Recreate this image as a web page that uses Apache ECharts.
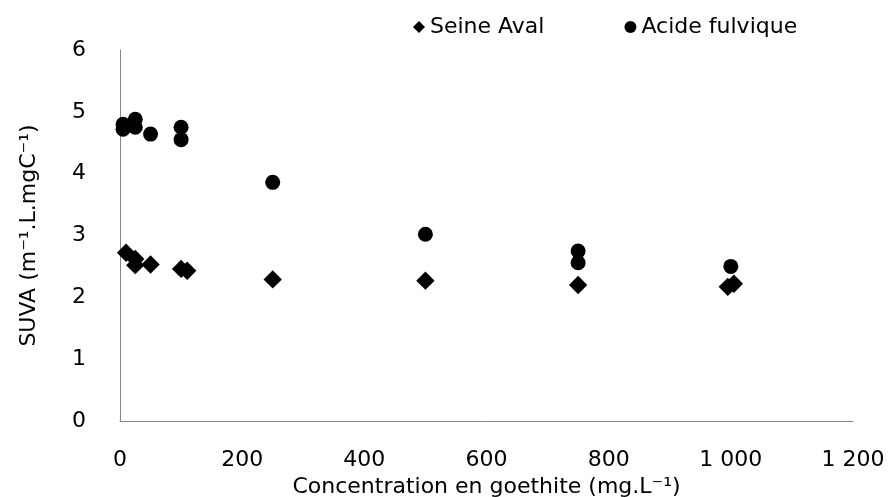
<!DOCTYPE html>
<html>
<head>
<meta charset="utf-8">
<script src="https://cdn.jsdelivr.net/npm/echarts@6/dist/echarts.min.js"></script>
<style>
    html, body { margin: 0; padding: 0; background: #fff; }
    #main { width: 888px; height: 497px; }
</style>
</head>
<body>
<div id="main"></div>
<script>
// concentration en goethite (mg/L) et SUVA
const seineX = [10, 25, 25, 50, 100, 110, 250, 500, 750, 995, 1005];
const seineY = [2.72, 2.62, 2.52, 2.53, 2.46, 2.43, 2.29, 2.27, 2.2, 2.17, 2.22];
const fulviqueX = [5, 5, 25, 25, 50, 100, 100, 250, 500, 750, 750, 1000];
const fulviqueY = [4.72, 4.8, 4.88, 4.75, 4.64, 4.75, 4.55, 3.86, 3.02, 2.75, 2.56, 2.5];
const xTicks = [0, 200, 400, 600, 800, 1000, 1200];
const yTicks = [0, 1, 2, 3, 4, 5, 6];

const FONT = 'DejaVu Sans';

function pairs(xs, ys) {
    return xs.map((x, i) => [x, ys[i]]);
}

function fmtThousands(v) {
    return String(v).replace(/\B(?=(\d{3})+(?!\d))/g, ' ');
}

const chart = echarts.init(document.getElementById('main'));
chart.setOption({
    backgroundColor: '#fff',
    animation: false,
    textStyle: { fontFamily: FONT, color: '#000' },
    legend: {
        left: 408,
        top: 11,
        itemGap: 80,
        itemWidth: 12,
        itemHeight: 12,
        textStyle: { fontSize: 22, color: '#000', fontFamily: FONT },
        data: [
            { name: 'Seine Aval', icon: 'diamond' },
            { name: 'Acide fulvique', icon: 'circle' }
        ]
    },
    grid: { left: 120, right: 35, top: 50, bottom: 76, outerBoundsMode: 'none' },
    xAxis: {
        type: 'value',
        min: xTicks[0],
        max: xTicks[xTicks.length - 1],
        interval: 200,
        name: 'Concentration en goethite (mg.L⁻¹)',
        nameLocation: 'middle',
        nameGap: 52,
        nameTextStyle: { fontSize: 22, color: '#000', fontFamily: FONT },
        axisLine: { show: true, lineStyle: { color: '#868686', width: 1 } },
        axisTick: { show: false },
        splitLine: { show: false },
        axisLabel: {
            fontSize: 22, color: '#000', margin: 28,
            formatter: v => fmtThousands(v)
        }
    },
    yAxis: {
        type: 'value',
        min: yTicks[0],
        max: yTicks[yTicks.length - 1],
        interval: 1,
        name: 'SUVA (m⁻¹.L.mgC⁻¹)',
        nameLocation: 'middle',
        nameGap: 80,
        nameTextStyle: { fontSize: 22, color: '#000', fontFamily: FONT },
        axisLine: { show: true, lineStyle: { color: '#868686', width: 1 } },
        axisTick: { show: false },
        splitLine: { show: false },
        axisLabel: { fontSize: 22, color: '#000', margin: 34 }
    },
    series: [
        {
            name: 'Seine Aval',
            type: 'scatter',
            symbol: 'rect',
            symbolSize: 13,
            symbolRotate: 45,
            itemStyle: { color: '#000', opacity: 1 },
            data: pairs(seineX, seineY)
        },
        {
            name: 'Acide fulvique',
            type: 'scatter',
            symbol: 'circle',
            symbolSize: 15,
            itemStyle: { color: '#000', opacity: 1 },
            data: pairs(fulviqueX, fulviqueY)
        }
    ]
});
</script>
</body>
</html>
